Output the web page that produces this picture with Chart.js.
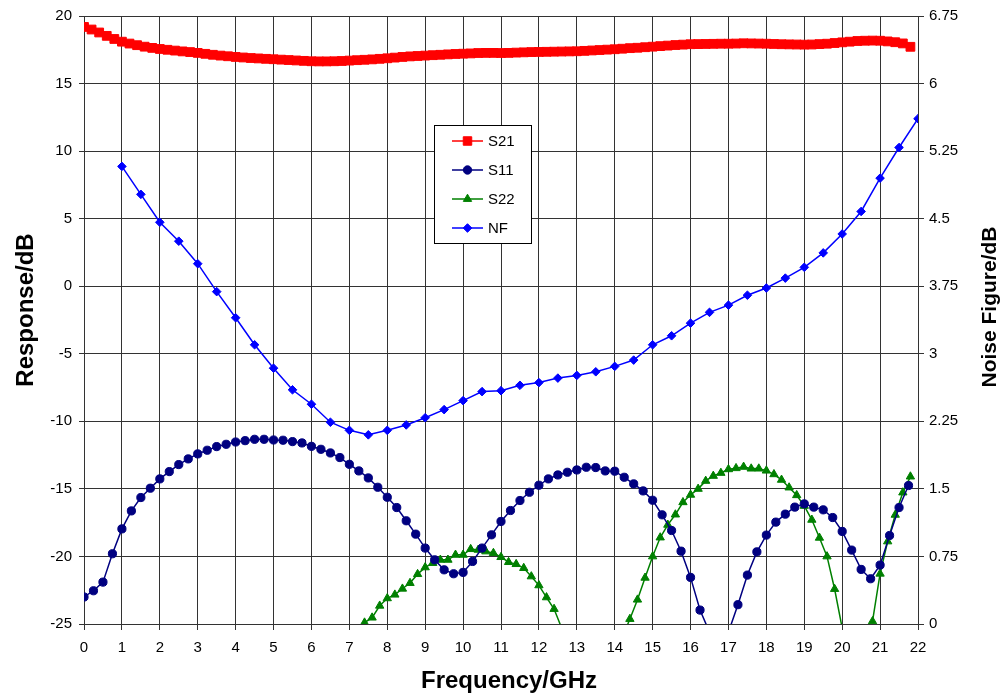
<!DOCTYPE html>
<html>
<head>
<meta charset="utf-8">
<script src="https://cdn.jsdelivr.net/npm/chart.js@4.4.0/dist/chart.umd.min.js"></script>
<style>
  html, body { margin: 0; padding: 0; background: #fff; }
  #wrap { width: 1006px; height: 695px; }
</style>
</head>
<body>
<div id="wrap"><canvas id="myChart" width="1006" height="695"></canvas></div>
<script>
// S21 every 0.2 GHz from 0
const s21Start = 0, s21Step = 0.2;
const s21Values = [
  19.19, 19.0, 18.78, 18.53, 18.30, 18.10, 17.96, 17.84, 17.73, 17.64,
  17.56, 17.50, 17.44, 17.38, 17.33, 17.27, 17.20, 17.13, 17.07, 17.02,
  16.97, 16.93, 16.89, 16.86, 16.83, 16.80, 16.77, 16.74, 16.71, 16.68,
  16.65, 16.64, 16.64, 16.65, 16.67, 16.70, 16.73, 16.76, 16.79, 16.83,
  16.87, 16.92, 16.97, 17.01, 17.04, 17.07, 17.10, 17.13, 17.16, 17.19,
  17.21, 17.23, 17.26, 17.27, 17.27, 17.26, 17.27, 17.29, 17.31, 17.33,
  17.34, 17.35, 17.36, 17.37, 17.38, 17.39, 17.42, 17.45, 17.48, 17.51,
  17.54, 17.58, 17.62, 17.65, 17.69, 17.73, 17.77, 17.81, 17.85, 17.88,
  17.91, 17.92, 17.93, 17.94, 17.95, 17.95, 17.96, 17.98, 17.97, 17.96,
  17.95, 17.93, 17.91, 17.90, 17.89, 17.88, 17.89, 17.92, 17.95, 18.00,
  18.05, 18.10, 18.15, 18.17, 18.18, 18.17, 18.12, 18.06, 17.97, 17.72
];

// S11 every 0.25 GHz from 0
const s11Start = 0, s11Step = 0.25;
const s11Values = [
  -23.0, -22.54, -21.9, -19.8, -17.96, -16.63, -15.64, -14.95,
  -14.26, -13.72, -13.2, -12.78, -12.41, -12.14, -11.87, -11.7,
  -11.53, -11.43, -11.33, -11.33, -11.38, -11.4, -11.5, -11.6,
  -11.85, -12.07, -12.34, -12.68, -13.18, -13.67, -14.19, -14.88,
  -15.62, -16.38, -17.36, -18.35, -19.38, -20.25, -20.99, -21.28,
  -21.18, -20.37, -19.38, -18.4, -17.41, -16.6, -15.86, -15.25,
  -14.73, -14.26, -13.97, -13.77, -13.6, -13.4, -13.42, -13.67,
  -13.69, -14.14, -14.63, -15.15, -15.84, -16.92, -18.08, -19.61,
  -21.55, -23.97, -25.6, null, -25.6, -23.57, -21.38, -19.66,
  -18.42, -17.46, -16.87, -16.35, -16.11, -16.35, -16.55, -17.12,
  -18.15, -19.53, -20.96, -21.65, -20.64, -18.45, -16.38, -14.75
];

// S22 every 0.2 GHz from 7.4
const s22Start = 7.4, s22Step = 0.2;
const s22Values = [
  -24.9, -24.53, -23.65, -23.1, -22.83, -22.39, -21.97, -21.31, -20.81, -20.49,
  -20.25, -20.25, -19.88, -19.88, -19.46, -19.51, -19.63, -19.75, -20.05, -20.42,
  -20.57, -20.86, -21.48, -22.14, -23.03, -23.89, -25.3,
  null, null, null, null, null, null, null, -26.0,
  -24.63, -23.2, -21.58, -20.0, -18.6, -17.66, -16.9, -15.99, -15.44, -15.0,
  -14.41, -14.04, -13.82, -13.55, -13.47, -13.37, -13.5, -13.5, -13.65, -13.92,
  -14.33, -14.9, -15.47, -16.26, -17.29, -18.62, -20.0, -22.41, -25.3,
  null, null, null,
  -24.8, -21.28, -18.89, -16.92, -15.27, -14.09
];

// NF every 0.5 GHz from 1 (right axis)
const nfStart = 1, nfStep = 0.5;
const nfValues = [
  5.08, 4.77, 4.46, 4.25, 4.00, 3.69, 3.40, 3.10, 2.84, 2.60,
  2.44, 2.24, 2.15, 2.10, 2.15, 2.21, 2.29, 2.38, 2.48, 2.58,
  2.59, 2.65, 2.68, 2.73, 2.76, 2.80, 2.86, 2.93, 3.10, 3.20,
  3.34, 3.46, 3.54, 3.65, 3.73, 3.84, 3.96, 4.12, 4.33, 4.58,
  4.95, 5.29, 5.61
];

const seriesNames = ['S21', 'S11', 'S22', 'NF'];
const responseTicks = [-25, 20, 5];
const noiseTicks = [0, 6.75, 0.75];
const freqTicks = [0, 22, 1];

function points(start, step, values) {
  return values.map((v, i) => ({ x: +(start + i * step).toFixed(2), y: v }));
}

// hide markers that fall below the response axis
function radiusIn(r) {
  return c => (c.raw && c.raw.y !== null && c.raw.y < responseTicks[0]) ? 0 : r;
}

const FONT = "'Liberation Sans', Arial, sans-serif";

const extras = {
  id: 'extras',
  beforeDraw(chart) {
    const c = chart.ctx;
    c.save();
    c.fillStyle = '#fff';
    c.fillRect(0, 0, chart.width, chart.height);
    c.restore();
  },
  afterDraw(chart) {
    const c = chart.ctx;
    c.save();
    c.fillStyle = '#000';
    c.textAlign = 'center';
    c.textBaseline = 'middle';
    c.font = 'bold 24px ' + FONT;
    c.fillText('Frequency/GHz', 509, 681);
    c.save();
    c.translate(26, 310);
    c.rotate(-Math.PI / 2);
    c.fillText('Response/dB', 0, 0);
    c.restore();
    c.font = 'bold 21px ' + FONT;
    c.save();
    c.translate(990, 307);
    c.rotate(-Math.PI / 2);
    c.fillText('Noise Figure/dB', 0, 0);
    c.restore();

    // legend box
    const bx = 434.5, by = 125.5, bw = 97, bh = 118;
    c.fillStyle = '#fff';
    c.fillRect(bx, by, bw, bh);
    c.strokeStyle = '#000';
    c.lineWidth = 1;
    c.strokeRect(bx, by, bw, bh);
    const rows = [141, 170, 199, 228];
    chart.data.datasets.forEach((ds, i) => {
      const y = rows[i];
      c.strokeStyle = ds.borderColor;
      c.lineWidth = 1.5;
      c.beginPath();
      c.moveTo(452, y);
      c.lineTo(483, y);
      c.stroke();
      c.fillStyle = ds.backgroundColor;
      c.strokeStyle = ds.borderColor;
      c.lineWidth = 1;
      Chart.helpers.drawPoint(c, { pointStyle: ds.pointStyle, radius: ds.legendRadius, rotation: 0, borderWidth: 1 }, 467.5, y);
      c.fillStyle = '#000';
      c.font = '15px ' + FONT;
      c.textAlign = 'left';
      c.fillText(seriesNames[i], 488, y + 1);
    });
    c.restore();
  }
};

const tickFmt = v => String(+Number(v).toFixed(2));

const ctx = document.getElementById('myChart').getContext('2d');

const myChart = new Chart(ctx, {
  type: 'line',
  data: {
    datasets: [{
      label: seriesNames[0],
      data: points(s21Start, s21Step, s21Values),
      yAxisID: 'y',
      borderColor: '#ff0000',
      backgroundColor: '#ff0000',
      borderWidth: 3,
      pointStyle: 'rect',
      pointRadius: 6.2,
      pointBorderWidth: 1,
      legendRadius: 6
    }, {
      label: seriesNames[1],
      data: points(s11Start, s11Step, s11Values),
      yAxisID: 'y',
      borderColor: '#000080',
      backgroundColor: '#000080',
      borderWidth: 1.5,
      pointStyle: 'circle',
      pointRadius: radiusIn(4.1),
      pointBorderWidth: 1,
      legendRadius: 4.2
    }, {
      label: seriesNames[2],
      data: points(s22Start, s22Step, s22Values),
      yAxisID: 'y',
      borderColor: '#008000',
      backgroundColor: '#008000',
      borderWidth: 1.5,
      pointStyle: 'triangle',
      pointRadius: radiusIn(4.8),
      pointBorderWidth: 1,
      legendRadius: 4.8
    }, {
      label: seriesNames[3],
      data: points(nfStart, nfStep, nfValues),
      yAxisID: 'y2',
      borderColor: '#0000ff',
      backgroundColor: '#0000ff',
      borderWidth: 1.5,
      pointStyle: 'rectRot',
      pointRadius: 4.3,
      pointBorderWidth: 1,
      legendRadius: 4.3
    }]
  },
  options: {
    responsive: false,
    animation: false,
    devicePixelRatio: 1,
    spanGaps: false,
    layout: { padding: { top: 15, left: 0, right: 0, bottom: 0 } },
    plugins: {
      legend: { display: false },
      tooltip: { enabled: false }
    },
    elements: { line: { tension: 0 } },
    scales: {
      x: {
        type: 'linear',
        min: freqTicks[0],
        max: freqTicks[1],
        afterFit: s => { s.height = 71; },
        ticks: { stepSize: freqTicks[2], color: '#000', font: { size: 15, family: FONT }, padding: 9, maxRotation: 0, callback: tickFmt },
        grid: { color: '#333', tickLength: 6 },
        border: { color: '#333' }
      },
      y: {
        position: 'left',
        min: responseTicks[0],
        max: responseTicks[1],
        afterFit: s => { s.width = 84; },
        ticks: { stepSize: responseTicks[2], color: '#000', font: { size: 15, family: FONT }, padding: 7, callback: tickFmt },
        grid: { color: '#333', tickLength: 5 },
        border: { color: '#333' }
      },
      y2: {
        position: 'right',
        min: noiseTicks[0],
        max: noiseTicks[1],
        afterFit: s => { s.width = 88; },
        ticks: { stepSize: noiseTicks[2], color: '#000', font: { size: 15, family: FONT }, padding: 5, callback: tickFmt },
        grid: { drawOnChartArea: false, color: '#333', tickLength: 6 },
        border: { color: '#333' }
      }
    }
  },
  plugins: [extras]
});
</script>
</body>
</html>
